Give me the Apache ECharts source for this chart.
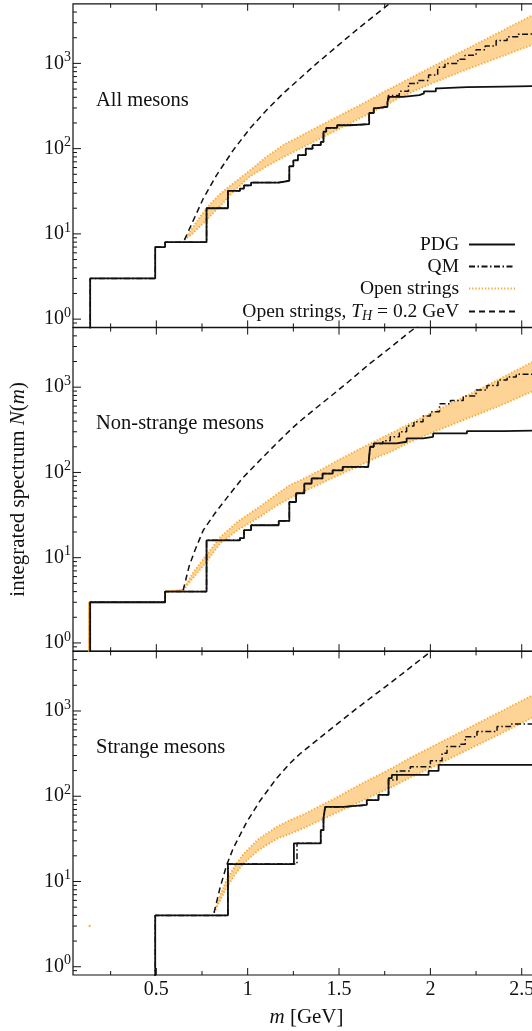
<!DOCTYPE html>
<html>
<head>
<meta charset="utf-8">
<script src="https://cdn.jsdelivr.net/npm/echarts@6/dist/echarts.min.js"></script>
<style>
  html, body { margin: 0; padding: 0; background: #fff; }
  #chart { width: 532px; height: 1031px; }
</style>
</head>
<body>
<div id="chart"></div>
<script>
// ---------------- data: integrated meson spectra N(m), m in GeV ----------------

// All mesons
const pdgAllMass  = [0.138, 0.494, 0.548, 0.775, 0.892, 0.958, 0.98, 1.019, 1.17, 1.228, 1.25, 1.275, 1.318, 1.355, 1.40, 1.415, 1.43, 1.49, 1.56, 1.665, 1.69, 1.71, 1.765, 1.775, 1.85, 1.94, 1.965, 2.03, 2.045, 2.2, 2.4];
const pdgAllCount = [3, 7, 8, 20, 32, 34, 37, 40, 42, 62, 73, 84, 100, 110, 120, 158, 175, 188, 194, 262, 298, 310, 354, 405, 425, 445, 470, 510, 527, 535, 544];
const qmAllMass   = [0.138, 0.494, 0.548, 0.775, 0.892, 0.958, 0.98, 1.019, 1.17, 1.228, 1.25, 1.275, 1.318, 1.355, 1.40, 1.415, 1.43, 1.49, 1.56, 1.665, 1.69, 1.71, 1.765, 1.77, 1.83, 1.88, 1.93, 1.99, 2.04, 2.08, 2.15, 2.19, 2.25, 2.30, 2.36, 2.42, 2.48, 2.52];
const qmAllCount  = [3, 7, 8, 20, 32, 34, 37, 40, 42, 62, 73, 84, 100, 110, 120, 158, 175, 188, 194, 262, 298, 310, 354, 420, 470, 580, 630, 730, 900, 1000, 1120, 1250, 1450, 1600, 1850, 2050, 2200, 2250];
const osAllMass   = [0.654, 0.70, 0.75, 0.80, 0.85, 0.92, 1.01, 1.10, 1.20, 1.29, 1.38, 1.47, 1.56, 1.65, 1.74, 1.84, 2.00, 2.20, 2.40, 2.60];
const osAllLow    = [8.5, 10.2, 12.9, 16.6, 21.4, 30.9, 46.8, 61.4, 80.4, 101, 126, 158, 198, 248, 310, 407, 575, 851, 1230, 1778];
const osAllHigh   = [8.5, 12, 17, 22.9, 29.5, 38.9, 55, 79.4, 112, 141, 178, 224, 282, 355, 457, 589, 891, 1479, 2455, 4074];
const hagAllMass  = [0.654, 0.70, 0.757, 0.83, 0.921, 1.013, 1.104, 1.195, 1.287, 1.378, 1.50, 1.60, 1.70, 1.80];
const hagAllCount = [8.5, 14, 26, 49, 96, 173, 284, 446, 669, 1000, 1660, 2510, 3720, 5500];

// Non-strange mesons
const pdgNsMass   = [0.138, 0.548, 0.775, 0.958, 0.98, 1.019, 1.17, 1.228, 1.265, 1.31, 1.35, 1.41, 1.465, 1.52, 1.66, 1.67, 1.69, 1.815, 1.87, 1.96, 2.015, 2.2, 2.4];
const pdgNsCount  = [3, 4, 16, 17, 21, 24, 27, 45, 57, 74, 85, 97, 106, 116, 122, 200, 219, 229, 251, 262, 287, 305, 312];
const qmNsMass    = [0.138, 0.548, 0.775, 0.958, 0.98, 1.019, 1.17, 1.228, 1.265, 1.31, 1.35, 1.41, 1.465, 1.52, 1.66, 1.67, 1.69, 1.74, 1.78, 1.83, 1.87, 1.91, 1.96, 2.00, 2.05, 2.11, 2.18, 2.25, 2.31, 2.37, 2.42, 2.47];
const qmNsCount   = [3, 4, 16, 17, 21, 24, 27, 45, 57, 74, 85, 97, 106, 116, 122, 200, 219, 235, 262, 300, 350, 393, 460, 514, 640, 700, 790, 925, 1050, 1211, 1320, 1420];
const osNsLowMass = [0.132, 0.132, 0.548, 0.548, 0.647];
const osNsLowCount = [0.5, 3, 3, 4, 4.15];
const osNsMass    = [0.647, 0.70, 0.766, 0.85, 0.95, 1.067, 1.15, 1.232, 1.29, 1.40, 1.50, 1.60, 1.70, 1.80, 1.89, 2.00, 2.20, 2.40, 2.60];
const osNsLow     = [4.15, 5.75, 8.5, 14.8, 21.4, 30.2, 39.8, 50.1, 57.5, 74.1, 93.3, 117, 148, 182, 229, 288, 427, 631, 977];
const osNsHigh    = [4.15, 6.6, 10.2, 17.4, 26.9, 39.8, 53.7, 71, 81, 107, 141, 182, 234, 299, 376, 490, 794, 1318, 2188];
const hagNsMass   = [0.647, 0.68, 0.71, 0.757, 0.82, 0.885, 0.97, 1.067, 1.15, 1.232, 1.287, 1.37, 1.451, 1.55, 1.67, 1.78, 1.89, 1.95];
const hagNsCount  = [4.15, 8, 12, 21, 33, 50, 85, 139, 210, 313, 400, 560, 771, 1150, 1900, 2900, 4500, 5600];

// Strange mesons
const pdgSMass    = [0.494, 0.892, 1.253, 1.40, 1.415, 1.424, 1.524, 1.652, 1.716, 1.771, 1.789, 1.99, 2.045];
const pdgSCount   = [4, 16, 28, 40, 55, 75, 79, 90, 104, 163, 178, 198, 233];
const qmSMass     = [0.494, 0.892, 1.27, 1.40, 1.415, 1.424, 1.524, 1.652, 1.716, 1.771, 1.817, 1.89, 2.00, 2.064, 2.091, 2.164, 2.191, 2.255, 2.365, 2.438];
const qmSCount    = [4, 16, 28, 40, 55, 75, 79, 90, 104, 155, 198, 222, 260, 320, 382, 408, 500, 573, 656, 706];
const osSDot      = [0.135, 3];
const osSMass     = [0.816, 0.85, 0.881, 0.93, 0.976, 1.06, 1.159, 1.232, 1.30, 1.40, 1.50, 1.60, 1.70, 1.80, 1.89, 2.00, 2.20, 2.40, 2.60];
const osSLow      = [4.3, 6.0, 8.3, 12.0, 16.2, 23.4, 31.6, 36.3, 41.7, 52.5, 66.1, 83.2, 105, 132, 166, 214, 347, 562, 933];
const osSHigh     = [4.3, 6.9, 10, 15.1, 20.9, 31.6, 43.7, 52.5, 60.3, 77.6, 100, 132, 170, 219, 282, 372, 617, 1023, 1698];
const hagSMass    = [0.816, 0.848, 0.885, 0.921, 0.995, 1.067, 1.159, 1.232, 1.287, 1.415, 1.598, 1.78, 1.945, 2.05];
const hagSCount   = [4.3, 8.3, 15.6, 24.5, 50, 88, 163, 244, 315, 525, 1075, 2120, 4000, 6000];

// Axis ticks and labels
const xMajorTicks = [0.5, 1, 1.5, 2, 2.5];
const xMinorTicks = [0.25, 0.75, 1.25, 1.75, 2.25];
const yMajorTicks = [1, 10, 100, 1000];
const yMinorTicks = [0.9, 2, 3, 4, 5, 6, 7, 8, 9, 20, 30, 40, 50, 60, 70, 80, 90,
                     200, 300, 400, 500, 600, 700, 800, 900, 2000, 3000, 4000];
const panelTitles = ['All mesons', 'Non-strange mesons', 'Strange mesons'];

// ---------------- layout & style ----------------
const X_MIN = 0.044, X_MAX = 2.6, Y_MIN = 0.8, Y_MAX = 5000, FLOOR = 0.5;
const SERIF = "'Liberation Serif', 'DejaVu Serif', serif";
const INK = '#111';
const BAND_EDGE = '#f8a935';
const BAND_FILL = '#fdd396';
const GRID_TOPS = [3.8, 327.6, 651.4];
const GRID_H = 323.6;
const NAME_PDG = 'PDG', NAME_QM = 'QM', NAME_OS = 'Open strings', NAME_HAG = 'Open strings, T_H = 0.2 GeV';

function pairs(mass, vals) { return mass.map((m, i) => [m, vals[i]]); }
function stepPoints(mass, count) {
  const pts = [[mass[0], FLOOR]];
  mass.forEach((m, i) => pts.push([m, count[i]]));
  pts.push([X_MAX + 0.1, count[count.length - 1]]);
  return pts;
}

function tickRenderer(params, api) {
  const p = api.coord([api.value(0), api.value(1)]);
  const len = api.value(2), dir = api.value(3);
  const q = dir === 0 ? [p[0] + len, p[1]] : dir === 1 ? [p[0], p[1] - len] : [p[0], p[1] + len];
  return { type: 'line', shape: { x1: p[0], y1: p[1], x2: q[0], y2: q[1] },
           style: { stroke: INK, lineWidth: 1 } };
}
function tickData() {
  const d = [];
  yMajorTicks.forEach(v => d.push([X_MIN, v, 8, 0]));
  yMinorTicks.forEach(v => d.push([X_MIN, v, 4, 0]));
  xMajorTicks.forEach(v => { d.push([v, Y_MIN, 7, 1]); d.push([v, Y_MAX, 7, 2]); });
  xMinorTicks.forEach(v => { d.push([v, Y_MIN, 4, 1]); d.push([v, Y_MAX, 4, 2]); });
  return d;
}
function bandRenderer(mass, low, high) {
  return function (params, api) {
    const pts = [];
    for (let i = 0; i < mass.length; i++) pts.push(api.coord([mass[i], high[i]]));
    for (let i = mass.length - 1; i >= 0; i--) pts.push(api.coord([mass[i], low[i]]));
    return { type: 'polygon', shape: { points: pts }, style: { fill: BAND_FILL } };
  };
}

const dottedEdge = { color: BAND_EDGE, width: 1.9, type: [1.3, 1.9] };
const panels = [
  { pdg: [pdgAllMass, pdgAllCount], qm: [qmAllMass, qmAllCount], os: [osAllMass, osAllLow, osAllHigh], hag: [hagAllMass, hagAllCount] },
  { pdg: [pdgNsMass, pdgNsCount], qm: [qmNsMass, qmNsCount], os: [osNsMass, osNsLow, osNsHigh], hag: [hagNsMass, hagNsCount] },
  { pdg: [pdgSMass, pdgSCount], qm: [qmSMass, qmSCount], os: [osSMass, osSLow, osSHigh], hag: [hagSMass, hagSCount] }
];

const grid = [], xAxis = [], yAxis = [], series = [], title = [];
const supRich = {
  b: { fontFamily: SERIF, fontSize: 20, color: INK, lineHeight: 22 },
  s: { fontFamily: SERIF, fontSize: 14, color: INK, lineHeight: 22, padding: [0, 0, 12, 0] }
};
const italicRich = { i: { fontFamily: SERIF, fontSize: 21, fontStyle: 'italic', color: INK } };

panels.forEach((p, g) => {
  grid.push({ left: 73, top: GRID_TOPS[g], width: 467, height: GRID_H, show: true,
              containLabel: false, outerBoundsMode: 'none',
              borderColor: INK, borderWidth: 1.2, backgroundColor: 'transparent' });
  xAxis.push({
    type: 'value', gridIndex: g, min: X_MIN, max: X_MAX,
    axisLine: { show: false }, axisTick: { show: false }, splitLine: { show: false },
    axisLabel: {
      show: g === 2, margin: 5, fontFamily: SERIF, fontSize: 20, color: INK,
      formatter: v => (Math.abs(v * 2 - Math.round(v * 2)) < 1e-6 && v > 0.3) ? String(v) : ''
    },
    name: g === 2 ? '{i|m} [GeV]' : '', nameLocation: 'middle', nameGap: 32,
    nameTextStyle: { fontFamily: SERIF, fontSize: 21, color: INK, rich: italicRich }
  });
  yAxis.push({
    type: 'log', logBase: 10, gridIndex: g, min: Y_MIN, max: Y_MAX,
    axisLine: { show: false }, axisTick: { show: false }, splitLine: { show: false }, minorTick: { show: false },
    axisLabel: {
      margin: 2, rich: supRich,
      formatter: v => {
        const e = Math.log10(v);
        if (Math.abs(e - Math.round(e)) > 1e-6) return '';
        return '{b|10}{s|' + Math.round(e) + '}';
      }
    },
    name: g === 1 ? 'integrated spectrum {i|N}({i|m})' : '', nameLocation: 'middle', nameRotate: 90, nameGap: 44,
    nameTextStyle: { fontFamily: SERIF, fontSize: 21, color: INK, rich: italicRich }
  });
  title.push({ text: panelTitles[g], left: 96, top: [90, 413, 737][g], padding: 0,
               textStyle: { fontFamily: SERIF, fontSize: 20.5, fontWeight: 'normal', color: INK } });

  const ax = { xAxisIndex: g, yAxisIndex: g };
  const [osM, osLo, osHi] = p.os;
  // open-string band fill
  series.push(Object.assign({ type: 'custom', silent: true, z: 1, encode: { x: 0, y: 1 },
    data: [[osM[0], osLo[0]]], renderItem: bandRenderer(osM, osLo, osHi) }, ax));
  // band edges
  series.push(Object.assign({ type: 'line', name: 'band lower', silent: true, z: 2, symbol: 'none',
    data: pairs(osM, osLo), lineStyle: dottedEdge }, ax));
  series.push(Object.assign({ type: 'line', name: NAME_OS, silent: true, z: 2, symbol: 'none',
    data: pairs(osM, osHi), lineStyle: dottedEdge, itemStyle: { color: BAND_EDGE } }, ax));
  if (g === 1) {
    series.push(Object.assign({ type: 'line', name: 'band ground states', silent: true, z: 2, symbol: 'none',
      data: pairs(osNsLowMass, osNsLowCount), lineStyle: { color: BAND_EDGE, width: 1.8 } }, ax));
  }
  if (g === 2) {
    series.push(Object.assign({ type: 'scatter', name: 'band point', silent: true, z: 2, symbol: 'circle',
      symbolSize: 2.5, data: [osSDot], itemStyle: { color: BAND_EDGE } }, ax));
  }
  // open strings with fixed Hagedorn temperature
  series.push(Object.assign({ type: 'line', name: NAME_HAG, silent: true, z: 3, symbol: 'none',
    data: pairs(p.hag[0], p.hag[1]), lineStyle: { color: INK, width: 1.5, type: [6, 4] },
    itemStyle: { color: INK } }, ax));
  // quark model
  series.push(Object.assign({ type: 'line', name: NAME_QM, silent: true, z: 4, symbol: 'none', step: 'end',
    data: stepPoints(p.qm[0], p.qm[1]), lineStyle: { color: INK, width: 1.5, type: [6, 2.5, 1.5, 2.5] },
    itemStyle: { color: INK } }, ax));
  // PDG
  series.push(Object.assign({ type: 'line', name: NAME_PDG, silent: true, z: 5, symbol: 'none', step: 'end',
    data: stepPoints(p.pdg[0], p.pdg[1]), lineStyle: { color: INK, width: 1.8 },
    itemStyle: { color: INK } }, ax));
  // axis ticks (inward)
  series.push(Object.assign({ type: 'custom', silent: true, z: 6, encode: { x: 0, y: 1 },
    data: tickData(), renderItem: tickRenderer }, ax));
});

const chart = echarts.init(document.getElementById('chart'), null, { renderer: 'canvas' });
chart.setOption({
  animation: false,
  backgroundColor: '#fff',
  title,
  grid, xAxis, yAxis, series,
  legend: {
    data: [NAME_PDG, NAME_QM, NAME_OS, NAME_HAG],
    orient: 'vertical', align: 'right', right: 11, top: 228.5,
    itemWidth: 46, itemHeight: 14, itemGap: 0, selectedMode: false,
    itemStyle: { opacity: 0 },
    textStyle: { fontFamily: SERIF, fontSize: 19.5, color: INK, lineHeight: 22, padding: [0, 5, 0, 0],
      rich: {
        i: { fontFamily: SERIF, fontSize: 19.5, fontStyle: 'italic', color: INK, lineHeight: 22 },
        sub: { fontFamily: SERIF, fontSize: 14, fontStyle: 'italic', color: INK, lineHeight: 14, padding: [10, 0, 0, 0] }
      } },
    formatter: name => name === NAME_HAG ? 'Open strings, {i|T}{sub|H} = 0.2 GeV' : name
  }
});
</script>
</body>
</html>
